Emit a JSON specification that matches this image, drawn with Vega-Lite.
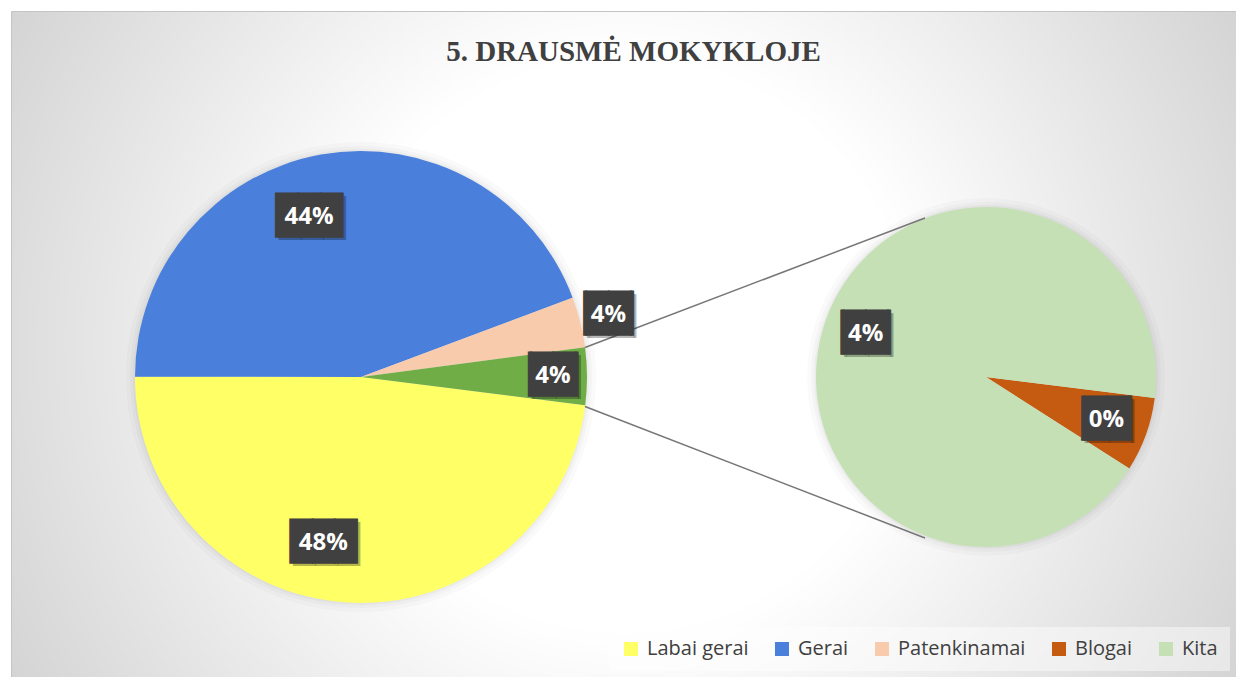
{
  "$schema": "https://vega.github.io/schema/vega-lite/v6.json",
  "width": 1236,
  "height": 677,
  "autosize": {"type": "fit", "contains": "padding"},
  "padding": {"left": 11, "top": 11, "right": 0, "bottom": 0},
  "background": "#ffffff",
  "title": {"text": "5. DRAUSMĖ MOKYKLOJE", "font": "Liberation Serif", "fontSize": 29, "fontWeight": "bold", "color": "#404040", "anchor": "middle", "offset": -56, "dx": 10},
  "config": {
    "view": {
      "fill": {"gradient": "radial", "x1": 0.5, "y1": 0.5, "r1": 0, "x2": 0.5, "y2": 0.5, "r2": 0.7071,
        "stops": [{"offset": 0, "color": "#ffffff"}, {"offset": 0.33, "color": "#ffffff"}, {"offset": 1, "color": "#c2c2c2"}]},
      "stroke": "#c4c4c4",
      "strokeWidth": 1
    }
  },
  "datasets": {
    "d": [
      {"pie": "main", "cat": "Labai gerai", "v": 0.48, "ord": 1},
      {"pie": "main", "cat": "Gerai", "v": 0.4425, "ord": 2},
      {"pie": "main", "cat": "Patenkinamai", "v": 0.036, "ord": 3},
      {"pie": "main", "cat": "Kitos", "v": 0.041, "ord": 4},
      {"pie": "second", "cat": "Blogai", "v": 0.0029, "ord": 1},
      {"pie": "second", "cat": "Kita", "v": 0.0381, "ord": 2}
    ]
  },
  "data": {"name": "d"},
  "encoding": {
    "x": {"field": "pie", "type": "nominal", "scale": {"type": "point", "domain": ["main", "second"], "range": [350, 975], "padding": 0}, "axis": null},
    "y": {"field": "pie", "type": "nominal", "scale": {"type": "point", "domain": ["main", "second"], "range": [366, 366], "padding": 0}, "axis": null}
  },
  "layer": [
    {
      "transform": [{"filter": "datum.pie === 'main' && datum.ord === 1"}],
      "mark": {"type": "arc", "outerRadius": 235, "color": "#000000", "opacity": 0.02}
    },
    {
      "transform": [{"filter": "datum.pie === 'main' && datum.ord === 1"}],
      "mark": {"type": "arc", "outerRadius": 231, "color": "#000000", "opacity": 0.025}
    },
    {
      "transform": [{"filter": "datum.pie === 'main' && datum.ord === 1"}],
      "mark": {"type": "arc", "outerRadius": 228, "color": "#000000", "opacity": 0.03}
    },
    {
      "transform": [{"filter": "datum.pie === 'second' && datum.ord === 1"}],
      "mark": {"type": "arc", "outerRadius": 179, "color": "#000000", "opacity": 0.02}
    },
    {
      "transform": [{"filter": "datum.pie === 'second' && datum.ord === 1"}],
      "mark": {"type": "arc", "outerRadius": 175, "color": "#000000", "opacity": 0.025}
    },
    {
      "transform": [{"filter": "datum.pie === 'second' && datum.ord === 1"}],
      "mark": {"type": "arc", "outerRadius": 172, "color": "#000000", "opacity": 0.03}
    },
    {
      "transform": [{"filter": "datum.pie === 'main'"}],
      "mark": {"type": "arc", "outerRadius": 226},
      "encoding": {
        "theta": {"field": "v", "type": "quantitative", "stack": true, "scale": {"range": [1.6965, 7.9797]}},
        "order": {"field": "ord", "type": "quantitative"},
        "color": {"field": "cat", "type": "nominal",
          "scale": {"domain": ["Labai gerai", "Gerai", "Patenkinamai", "Blogai", "Kita", "Kitos"], "range": ["#FFFF66", "#4A7FDB", "#F8CBAD", "#C55A11", "#C5E0B4", "#70AD47"]},
          "legend": {"orient": "bottom-right", "direction": "horizontal", "title": null, "values": ["Labai gerai", "Gerai", "Patenkinamai", "Blogai", "Kita"], "symbolType": "square", "symbolSize": 196, "symbolStrokeWidth": 0, "labelFont": "Open Sans", "labelFontSize": 20, "labelColor": "#404040", "labelOffset": 6, "columnPadding": 23, "padding": 12, "offset": 6, "fillColor": "rgba(255,255,255,0.45)", "labelLimit": 300}}
      }
    },
    {
      "transform": [{"filter": "datum.pie === 'second'"}],
      "mark": {"type": "arc", "outerRadius": 170},
      "encoding": {
        "theta": {"field": "v", "type": "quantitative", "stack": true, "scale": {"range": [1.6947, 7.9779]}},
        "order": {"field": "ord", "type": "quantitative"},
        "color": {"field": "cat", "type": "nominal"}
      }
    },
    {
      "data": {"values": [{"link": "top"}]},
      "mark": {"type": "rule", "color": "#767676", "strokeWidth": 1.5, "xOffset": 224, "yOffset": -29.5, "x2Offset": -61, "y2Offset": -159},
      "encoding": {"x": {"datum": "main", "type": "nominal"}, "x2": {"datum": "second"}, "y": {"datum": "main", "type": "nominal"}, "y2": {"datum": "second"}}
    },
    {
      "data": {"values": [{"link": "bottom"}]},
      "mark": {"type": "rule", "color": "#767676", "strokeWidth": 1.5, "xOffset": 224, "yOffset": 29.5, "x2Offset": -61, "y2Offset": 161},
      "encoding": {"x": {"datum": "main", "type": "nominal"}, "x2": {"datum": "second"}, "y": {"datum": "main", "type": "nominal"}, "y2": {"datum": "second"}}
    },
    {
      "transform": [{"filter": "datum.pie === 'main'"}],
      "encoding": {
        "theta": {"field": "v", "type": "quantitative", "stack": true, "scale": {"range": [1.6965, 7.9797]}},
        "order": {"field": "ord", "type": "quantitative"},
        "detail": {"field": "cat", "type": "nominal"},
        "radius": {"value": 170},
        "opacity": {"condition": {"test": "datum.cat === 'Labai gerai'", "value": 1}, "value": 0}
      },
      "layer": [
        {"mark": {"type": "text", "thetaOffset": 0.16, "font": "DejaVu Sans Mono", "fontSize": 37, "align": "center", "baseline": "middle", "color": "rgba(0,0,0,0.28)", "dx": 3, "dy": 3},
         "encoding": {"text": {"condition": {"test": "datum.v >= 0.1", "value": "███"}, "value": "▕██▏"}}},
        {"mark": {"type": "text", "thetaOffset": 0.16, "font": "DejaVu Sans Mono", "fontSize": 37, "align": "center", "baseline": "middle", "color": "#404040", "stroke": "#404040", "strokeWidth": 1.2},
         "encoding": {"text": {"condition": {"test": "datum.v >= 0.1", "value": "███"}, "value": "▕██▏"}}},
        {"mark": {"type": "text", "thetaOffset": 0.16, "font": "Open Sans", "fontSize": 24, "fontWeight": "bold", "align": "center", "baseline": "middle", "color": "#ffffff"},
         "encoding": {"text": {"field": "v", "type": "quantitative", "format": ".0%"}}}
      ]
    },
    {
      "transform": [{"filter": "datum.pie === 'main'"}],
      "encoding": {
        "theta": {"field": "v", "type": "quantitative", "stack": true, "scale": {"range": [1.6965, 7.9797]}},
        "order": {"field": "ord", "type": "quantitative"},
        "detail": {"field": "cat", "type": "nominal"},
        "radius": {"value": 168},
        "opacity": {"condition": {"test": "datum.cat === 'Gerai'", "value": 1}, "value": 0}
      },
      "layer": [
        {"mark": {"type": "text", "thetaOffset": -0.136, "font": "DejaVu Sans Mono", "fontSize": 37, "align": "center", "baseline": "middle", "color": "rgba(0,0,0,0.28)", "dx": 3, "dy": 3},
         "encoding": {"text": {"condition": {"test": "datum.v >= 0.1", "value": "███"}, "value": "▕██▏"}}},
        {"mark": {"type": "text", "thetaOffset": -0.136, "font": "DejaVu Sans Mono", "fontSize": 37, "align": "center", "baseline": "middle", "color": "#404040", "stroke": "#404040", "strokeWidth": 1.2},
         "encoding": {"text": {"condition": {"test": "datum.v >= 0.1", "value": "███"}, "value": "▕██▏"}}},
        {"mark": {"type": "text", "thetaOffset": -0.136, "font": "Open Sans", "fontSize": 24, "fontWeight": "bold", "align": "center", "baseline": "middle", "color": "#ffffff"},
         "encoding": {"text": {"field": "v", "type": "quantitative", "format": ".0%"}}}
      ]
    },
    {
      "transform": [{"filter": "datum.pie === 'main'"}],
      "encoding": {
        "theta": {"field": "v", "type": "quantitative", "stack": true, "scale": {"range": [1.6965, 7.9797]}},
        "order": {"field": "ord", "type": "quantitative"},
        "detail": {"field": "cat", "type": "nominal"},
        "radius": {"value": 255},
        "opacity": {"condition": {"test": "datum.cat === 'Patenkinamai'", "value": 1}, "value": 0}
      },
      "layer": [
        {"mark": {"type": "text", "font": "DejaVu Sans Mono", "fontSize": 37, "align": "center", "baseline": "middle", "color": "rgba(0,0,0,0.28)", "dx": 3, "dy": 3},
         "encoding": {"text": {"condition": {"test": "datum.v >= 0.1", "value": "███"}, "value": "▕██▏"}}},
        {"mark": {"type": "text", "font": "DejaVu Sans Mono", "fontSize": 37, "align": "center", "baseline": "middle", "color": "#404040", "stroke": "#404040", "strokeWidth": 1.2},
         "encoding": {"text": {"condition": {"test": "datum.v >= 0.1", "value": "███"}, "value": "▕██▏"}}},
        {"mark": {"type": "text", "font": "Open Sans", "fontSize": 24, "fontWeight": "bold", "align": "center", "baseline": "middle", "color": "#ffffff"},
         "encoding": {"text": {"field": "v", "type": "quantitative", "format": ".0%"}}}
      ]
    },
    {
      "transform": [{"filter": "datum.pie === 'main'"}],
      "encoding": {
        "theta": {"field": "v", "type": "quantitative", "stack": true, "scale": {"range": [1.6965, 7.9797]}},
        "order": {"field": "ord", "type": "quantitative"},
        "detail": {"field": "cat", "type": "nominal"},
        "radius": {"value": 192},
        "opacity": {"condition": {"test": "datum.cat === 'Kitos'", "value": 1}, "value": 0}
      },
      "layer": [
        {"mark": {"type": "text", "font": "DejaVu Sans Mono", "fontSize": 37, "align": "center", "baseline": "middle", "color": "rgba(0,0,0,0.28)", "dx": 3, "dy": 3},
         "encoding": {"text": {"condition": {"test": "datum.v >= 0.1", "value": "███"}, "value": "▕██▏"}}},
        {"mark": {"type": "text", "font": "DejaVu Sans Mono", "fontSize": 37, "align": "center", "baseline": "middle", "color": "#404040", "stroke": "#404040", "strokeWidth": 1.2},
         "encoding": {"text": {"condition": {"test": "datum.v >= 0.1", "value": "███"}, "value": "▕██▏"}}},
        {"mark": {"type": "text", "font": "Open Sans", "fontSize": 24, "fontWeight": "bold", "align": "center", "baseline": "middle", "color": "#ffffff"},
         "encoding": {"text": {"field": "v", "type": "quantitative", "format": ".0%"}}}
      ]
    },
    {
      "transform": [{"filter": "datum.pie === 'second'"}],
      "encoding": {
        "theta": {"field": "v", "type": "quantitative", "stack": true, "scale": {"range": [1.6947, 7.9779]}},
        "order": {"field": "ord", "type": "quantitative"},
        "detail": {"field": "cat", "type": "nominal"},
        "radius": {"value": 128}
      },
      "layer": [
        {"mark": {"type": "text", "font": "DejaVu Sans Mono", "fontSize": 37, "align": "center", "baseline": "middle", "color": "rgba(0,0,0,0.28)", "dx": 3, "dy": 3},
         "encoding": {"text": {"condition": {"test": "datum.v >= 0.1", "value": "███"}, "value": "▕██▏"}}},
        {"mark": {"type": "text", "font": "DejaVu Sans Mono", "fontSize": 37, "align": "center", "baseline": "middle", "color": "#404040", "stroke": "#404040", "strokeWidth": 1.2},
         "encoding": {"text": {"condition": {"test": "datum.v >= 0.1", "value": "███"}, "value": "▕██▏"}}},
        {"mark": {"type": "text", "font": "Open Sans", "fontSize": 24, "fontWeight": "bold", "align": "center", "baseline": "middle", "color": "#ffffff"},
         "encoding": {"text": {"field": "v", "type": "quantitative", "format": ".0%"}}}
      ]
    }
  ],
  "resolve": {"scale": {"theta": "independent"}}
}
